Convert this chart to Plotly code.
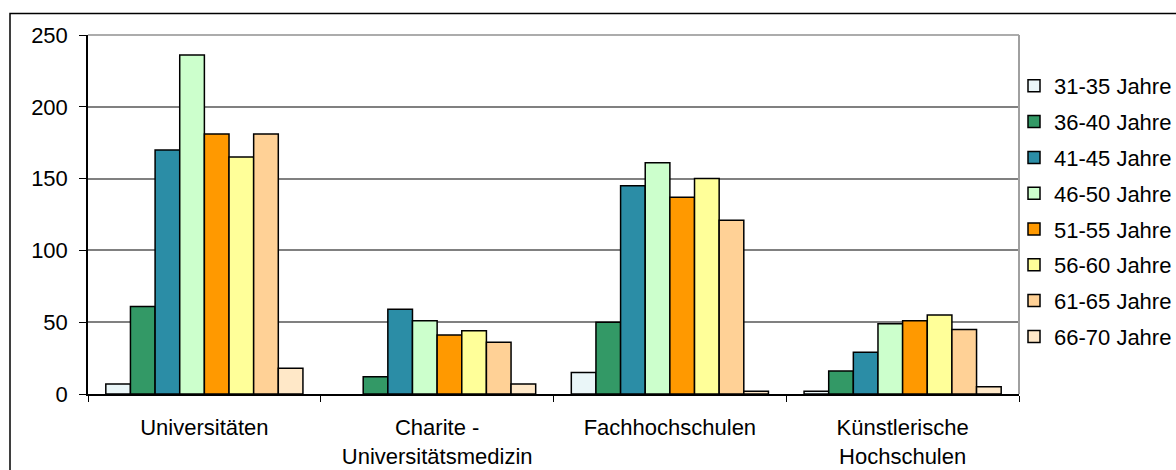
import plotly.graph_objects as go

categories = ["Universitäten", "Charite -<br>Universitätsmedizin", "Fachhochschulen", "Künstlerische<br>Hochschulen"]
series_names = ["31-35 Jahre", "36-40 Jahre", "41-45 Jahre", "46-50 Jahre",
                "51-55 Jahre", "56-60 Jahre", "61-65 Jahre", "66-70 Jahre"]
v_31_35 = [7, None, 15, 2]
v_36_40 = [61, 12, 50, 16]
v_41_45 = [170, 59, 145, 29]
v_46_50 = [236, 51, 161, 49]
v_51_55 = [181, 41, 137, 51]
v_56_60 = [165, 44, 150, 55]
v_61_65 = [181, 36, 121, 45]
v_66_70 = [18, 7, 2, 5]
series_values = [v_31_35, v_36_40, v_41_45, v_46_50, v_51_55, v_56_60, v_61_65, v_66_70]
colors = ["#EAF6F8", "#339966", "#2B8DA6", "#CCFFCC", "#FF9900", "#FFFF99", "#FFD196", "#FFE8C8"]
y_ticks = [0, 50, 100, 150, 200, 250]

W, H = 1176, 470
L, R, T, B = 88, 1019, 35, 394

FONT = "Liberation Sans, Arial, Helvetica, sans-serif"

fig = go.Figure()
for name, vals, col in zip(series_names, series_values, colors):
    fig.add_trace(go.Bar(
        x=categories, y=vals, name=name, legendgroup=name,
        marker=dict(color=col, line=dict(color="black", width=1.5)),
    ))

fig.update_layout(
    template="none",
    width=W, height=H,
    margin=dict(l=L, r=W - R, t=T, b=H - B, pad=0, autoexpand=False),
    paper_bgcolor="white", plot_bgcolor="white",
    barmode="group", bargap=0.153, bargroupgap=0,
    font=dict(family=FONT, size=22, color="black"),
    showlegend=True,
    legend=dict(xref="container", yref="container", x=1014 / W, xanchor="left",
                y=1 - 65 / H, yanchor="top", maxheight=420,
                font=dict(size=22), tracegroupgap=4.2, bgcolor="rgba(0,0,0,0)",
                borderwidth=0, itemclick=False),
    xaxis=dict(showline=True, linecolor="black", linewidth=1.5, ticks="outside",
               ticklen=6, tickwidth=1.2, tickcolor="black", tickson="boundaries",
               showgrid=False, ticklabelstandoff=13, automargin=False, fixedrange=True),
    yaxis=dict(range=[0, 250], tickvals=y_ticks, showline=True, linecolor="black",
               linewidth=1.5, ticks="outside", ticklen=7, tickwidth=1.2, tickcolor="black",
               showgrid=True, gridcolor="#808080", gridwidth=1.5, zeroline=False,
               ticklabelstandoff=7, automargin=False, fixedrange=True),
    shapes=[
        dict(type="line", xref="paper", yref="paper", x0=0, x1=1, y0=1, y1=1,
             line=dict(color="#909090", width=1.5)),
        dict(type="line", xref="paper", yref="paper", x0=1, x1=1, y0=0, y1=1,
             line=dict(color="#A0A0A0", width=2)),
        dict(type="rect", xref="paper", yref="paper",
             x0=(10 - L) / (R - L), x1=(W + 20 - L) / (R - L),
             y0=(B - H - 20) / (B - T), y1=(B - 13.5) / (B - T),
             line=dict(color="black", width=1.5), layer="below"),
    ],
)

fig.write_html("out.html",
               config={"displayModeBar": False},
               post_script="document.body.style.margin='0';document.body.style.overflow='hidden';")
